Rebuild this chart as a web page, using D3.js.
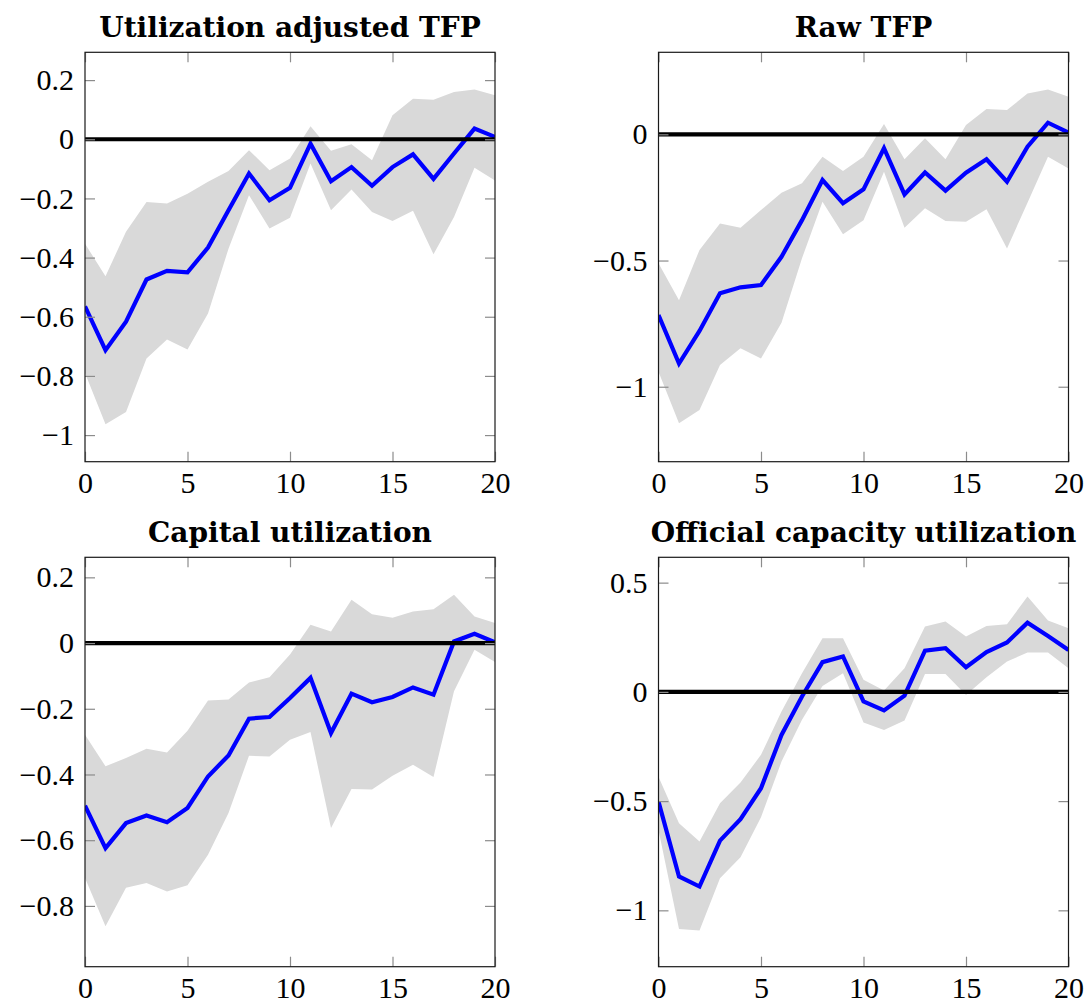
<!DOCTYPE html>
<html>
<head>
<meta charset="utf-8">
<script src="https://cdn.jsdelivr.net/npm/d3@7"></script>
<style>
  body { margin: 0; background: #fff; }
  text { font-family: "Liberation Serif", "Times New Roman", serif; }
</style>
</head>
<body>
<div id="chart"></div>
<script>
// horizons (quarters) and x ticks shared by all panels
var horizon = [0, 1, 2, 3, 4, 5, 6, 7, 8, 9, 10, 11, 12, 13, 14, 15, 16, 17, 18, 19, 20];
var xTicks = [0, 5, 10, 15, 20];

// Utilization adjusted TFP
var adjTfpMean = [-0.565, -0.713, -0.617, -0.474, -0.445, -0.450, -0.366, -0.240, -0.116, -0.206, -0.164,
                  -0.015, -0.142, -0.094, -0.157, -0.094, -0.051, -0.134, -0.048, 0.036, 0.008];
var adjTfpLow = [-0.790, -0.963, -0.922, -0.741, -0.677, -0.711, -0.589, -0.370, -0.189, -0.302, -0.265,
                 -0.082, -0.240, -0.170, -0.246, -0.276, -0.242, -0.389, -0.263, -0.096, -0.139];
var adjTfpHigh = [-0.353, -0.463, -0.313, -0.212, -0.217, -0.184, -0.144, -0.107, -0.037, -0.105, -0.065,
                  0.044, -0.039, -0.017, -0.071, 0.081, 0.137, 0.134, 0.160, 0.168, 0.149];
var adjTfpTicks = [0.2, 0, -0.2, -0.4, -0.6, -0.8, -1];

// Raw TFP
var rawTfpMean = [-0.716, -0.908, -0.779, -0.630, -0.606, -0.597, -0.485, -0.340, -0.181, -0.273, -0.218,
                  -0.055, -0.238, -0.151, -0.223, -0.152, -0.099, -0.188, -0.049, 0.046, 0.007];
var rawTfpLow = [-0.941, -1.145, -1.092, -0.914, -0.848, -0.888, -0.746, -0.491, -0.267, -0.396, -0.340,
                 -0.148, -0.370, -0.293, -0.343, -0.346, -0.297, -0.452, -0.271, -0.089, -0.135];
var rawTfpHigh = [-0.511, -0.657, -0.458, -0.353, -0.370, -0.300, -0.231, -0.194, -0.089, -0.145, -0.089,
                  0.041, -0.099, -0.016, -0.099, 0.037, 0.100, 0.096, 0.162, 0.178, 0.149];
var rawTfpTicks = [0, -0.5, -1];

// Capital utilization
var capUtilMean = [-0.495, -0.624, -0.548, -0.525, -0.545, -0.502, -0.406, -0.342, -0.230, -0.225, -0.167,
                   -0.106, -0.274, -0.154, -0.180, -0.164, -0.135, -0.157, 0.005, 0.028, 0.002];
var capUtilLow = [-0.715, -0.862, -0.745, -0.730, -0.756, -0.737, -0.644, -0.517, -0.343, -0.345, -0.294,
                  -0.271, -0.563, -0.444, -0.446, -0.404, -0.370, -0.408, -0.147, -0.020, -0.058];
var capUtilHigh = [-0.279, -0.375, -0.350, -0.322, -0.333, -0.267, -0.175, -0.172, -0.120, -0.104, -0.035,
                   0.056, 0.035, 0.132, 0.088, 0.077, 0.096, 0.103, 0.147, 0.081, 0.061];
var capUtilTicks = [0.2, 0, -0.2, -0.4, -0.6, -0.8];

// Official capacity utilization
var offCapMean = [-0.502, -0.845, -0.891, -0.681, -0.583, -0.441, -0.197, -0.021, 0.136, 0.162, -0.044,
                  -0.085, -0.017, 0.189, 0.200, 0.113, 0.182, 0.226, 0.317, 0.256, 0.192];
var offCapLow = [-0.632, -1.086, -1.092, -0.853, -0.757, -0.574, -0.319, -0.128, 0.027, 0.085, -0.140,
                 -0.174, -0.131, 0.082, 0.082, -0.014, 0.067, 0.139, 0.180, 0.180, 0.108];
var offCapHigh = [-0.388, -0.601, -0.685, -0.510, -0.415, -0.288, -0.090, 0.085, 0.246, 0.246, 0.055,
                  0.006, 0.108, 0.299, 0.322, 0.253, 0.302, 0.310, 0.436, 0.327, 0.291];
var offCapTicks = [0.5, 0, -0.5, -1];

var panels = [
    { title: "Utilization adjusted TFP", mean: adjTfpMean, low: adjTfpLow, high: adjTfpHigh, ticks: adjTfpTicks, domain: [-1.09, 0.294] },
    { title: "Raw TFP", mean: rawTfpMean, low: rawTfpLow, high: rawTfpHigh, ticks: rawTfpTicks, domain: [-1.297, 0.325] },
    { title: "Capital utilization", mean: capUtilMean, low: capUtilLow, high: capUtilHigh, ticks: capUtilTicks, domain: [-0.985, 0.261] },
    { title: "Official capacity utilization", mean: offCapMean, low: offCapLow, high: offCapHigh, ticks: offCapTicks, domain: [-1.258, 0.616] }
];

var W = 1089, H = 1005;
var pw = 410, ph = 409.4;
var colX = [85, 658.5];
var rowY = [52.3, 557.3];
var fontSize = 30;

var svg = d3.select("#chart")
    .append("svg")
    .attr("width", W)
    .attr("height", H);

function fmt(v) {
    var s = String(Math.abs(+v.toFixed(2)));
    return (v < 0 ? "\u2212" : "") + s;
}

panels.forEach(function (p, i) {
    var left = colX[i % 2];
    var top = rowY[Math.floor(i / 2)];

    var g = svg.append("g")
        .attr("transform", "translate(" + left + "," + top + ")");

    var xScale = d3.scaleLinear().domain([0, 20]).range([0, pw]);
    var yScale = d3.scaleLinear().domain(p.domain).range([ph, 0]);

    g.append("clipPath")
        .attr("id", "clip" + i)
        .append("rect")
        .attr("width", pw)
        .attr("height", ph);

    var plot = g.append("g").attr("clip-path", "url(#clip" + i + ")");

    var band = d3.area()
        .x(function (d, j) { return xScale(horizon[j]); })
        .y0(function (d, j) { return yScale(p.low[j]); })
        .y1(function (d, j) { return yScale(p.high[j]); });

    plot.append("path")
        .datum(p.mean)
        .attr("d", band)
        .style("fill", "#d9d9d9");

    var line = d3.line()
        .x(function (d, j) { return xScale(horizon[j]); })
        .y(function (d) { return yScale(d); });

    plot.append("path")
        .datum(p.mean)
        .attr("d", line)
        .style("fill", "none")
        .style("stroke", "#0000ff")
        .style("stroke-width", 4.2)
        .style("stroke-linejoin", "miter");

    // zero line, drawn over the response
    plot.append("line")
        .attr("x1", 0)
        .attr("x2", pw)
        .attr("y1", yScale(0))
        .attr("y2", yScale(0))
        .style("stroke", "#000")
        .style("stroke-width", 4.2);

    // axes (ticks point inward, mirrored on top/right)
    var tick = 10;
    var xb = g.append("g")
        .attr("transform", "translate(0," + ph + ")")
        .call(d3.axisBottom(xScale).tickValues(xTicks).tickSizeInner(-tick).tickSizeOuter(0).tickPadding(8));
    var xt = g.append("g")
        .call(d3.axisTop(xScale).tickValues(xTicks).tickSizeInner(-tick).tickSizeOuter(0).tickFormat(""));
    var yl = g.append("g")
        .call(d3.axisLeft(yScale).tickValues(p.ticks).tickSizeInner(-tick).tickSizeOuter(0).tickPadding(11).tickFormat(fmt));
    var yr = g.append("g")
        .attr("transform", "translate(" + pw + ",0)")
        .call(d3.axisRight(yScale).tickValues(p.ticks).tickSizeInner(-tick).tickSizeOuter(0).tickFormat(""));

    [xb, xt, yl, yr].forEach(function (a) {
        a.attr("font-family", "Liberation Serif").attr("font-size", fontSize);
        a.select(".domain").remove();
        a.selectAll(".tick line").style("stroke", "#8c8c8c").style("stroke-width", 1.2);
        a.selectAll("text")
            .attr("font-family", "Liberation Serif")
            .style("font-family", "'Liberation Serif', serif")
            .style("font-size", fontSize + "px")
            .style("fill", "#000");
    });
    xb.selectAll("text").attr("dy", null).attr("y", 31.5);

    // frame
    g.append("rect")
        .attr("width", pw)
        .attr("height", ph)
        .style("fill", "none")
        .style("stroke", "#1a1a1a")
        .style("stroke-width", 1.2);

    // title, anchored at the bottom of its box
    var t = g.append("text")
        .attr("x", pw / 2)
        .attr("y", -14)
        .attr("text-anchor", "middle")
        .style("font-family", "'DejaVu Serif', serif")
        .style("font-weight", "bold")
        .style("font-size", "28px")
        .text(p.title);
    var bb = t.node().getBBox();
    t.attr("y", -14 - (bb.y + bb.height + 8));
});
</script>
</body>
</html>
